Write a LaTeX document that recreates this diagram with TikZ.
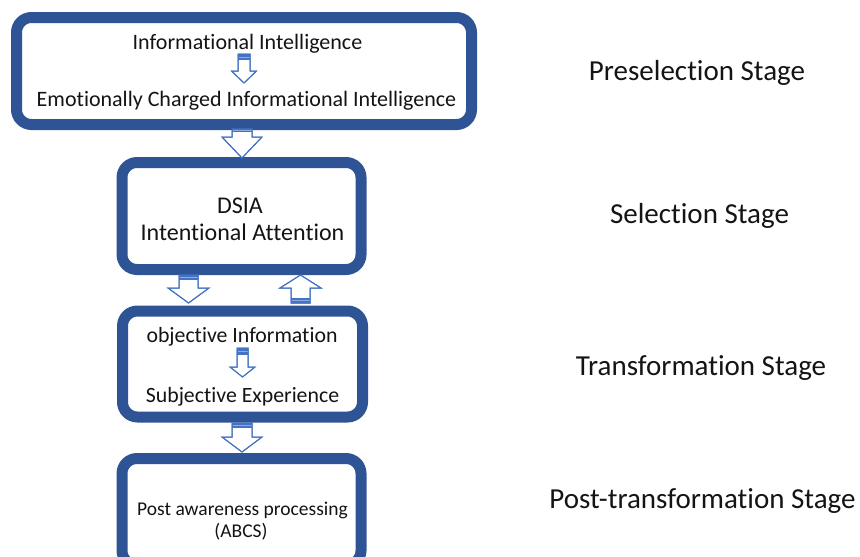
\documentclass[tikz,border=0pt]{standalone}
\usepackage{fontspec}
\setmainfont{Carlito}[Ligatures=NoCommon]
\usetikzlibrary{calc}
\definecolor{boxblue}{RGB}{47,84,150}
\definecolor{arrowblue}{RGB}{68,114,196}
\definecolor{bandlight}{RGB}{143,170,220}
\newcommand\fs[1]{\fontsize{#1}{#1}\selectfont}
% block arrow: centre x, base y, head-base y, tip y, shaft half width, head half width
\newcommand\blockarrow[6]{%
  \draw[arrowline] (#1-#5,#2) -- (#1+#5,#2) -- (#1+#5,#3) -- (#1+#6,#3)
    -- (#1,#4) -- (#1-#6,#3) -- (#1-#5,#3) -- cycle;
  \fill[arrowblue] (#1-#5,#2) rectangle (#1+#5,{#2+0.35*(#3-#2)});
  \draw[bandlight, line width=1pt] (#1-#5+0.5,{#2+0.2*(#3-#2)}) -- (#1+#5-0.5,{#2+0.2*(#3-#2)});
  \draw[arrowline, fill=none] (#1-#5,#2) -- (#1+#5,#2) -- (#1+#5,#3) -- (#1+#6,#3)
    -- (#1,#4) -- (#1-#6,#3) -- (#1-#5,#3) -- cycle;
}
\begin{document}
\begin{tikzpicture}[x=1pt,y=-1pt,
  stagebox/.style={draw=boxblue, line width=11pt, rounded corners=15pt,
    fill=white, inner sep=0pt},
  arrowline/.style={draw=arrowblue, line width=1pt, fill=white, line join=miter},
  boxtext/.style={anchor=base, inner sep=0pt, text=black!92},
  stagelabel/.style={anchor=base, inner sep=0pt, font=\fs{29}, text=black!92}]
\useasboundingbox (0,0) rectangle (860,557);

% stage boxes
\node[stagebox, minimum width=455pt, minimum height=107pt] (pre) at (244,71) {};
\node[stagebox, minimum width=239pt, minimum height=107pt] (sel) at (241.5,216) {};
\node[stagebox, minimum width=240pt, minimum height=106pt] (tra) at (242.5,364) {};
\node[stagebox, minimum width=239pt, minimum height=107pt] (post) at (241.5,512) {};

% box contents
\node[boxtext, font=\fs{22}] (ii) at (247.5,49) {Informational Intelligence};
\node[boxtext, font=\fs{22}] (ecii) at (246.5,106.5) {Emotionally Charged Informational Intelligence};
\node[boxtext, font=\fs{24}] (dsia) at (240,213) {DSIA};
\node[boxtext, font=\fs{24}] (ia) at (242.5,240) {Intentional Attention};
\node[boxtext, font=\fs{21.8}] (oi) at (242,342) {objective Information};
\node[boxtext, font=\fs{21.8}] (se) at (242.5,402) {Subjective Experience};
\node[boxtext, font=\fs{19.5}] (pap) at (242.5,515) {Post awareness processing};
\node[boxtext, font=\fs{19.5}] (abcs) at (241,537) {(ABCS)};

% stage names
\node[stagelabel] (l1) at (697,80.5) {Preselection Stage};
\node[stagelabel] (l2) at (699.5,223.5) {Selection Stage};
\node[stagelabel] (l3) at (701,375.5) {Transformation Stage};
\node[stagelabel] (l4) at (702.5,508.5) {Post-transformation Stage};

% arrows inside boxes
\blockarrow{244}{54}{71}{83}{6}{12.5}
\blockarrow{242.5}{348}{367}{377}{5.5}{12.5}

% arrows between boxes
\blockarrow{242}{129}{137}{158}{10}{20}
\blockarrow{188.5}{275}{288}{303}{9.5}{20.5}
\blockarrow{300.5}{303}{288}{275}{9.5}{20.5}
\blockarrow{242}{423}{437}{452}{10}{20}
\end{tikzpicture}
\end{document}
